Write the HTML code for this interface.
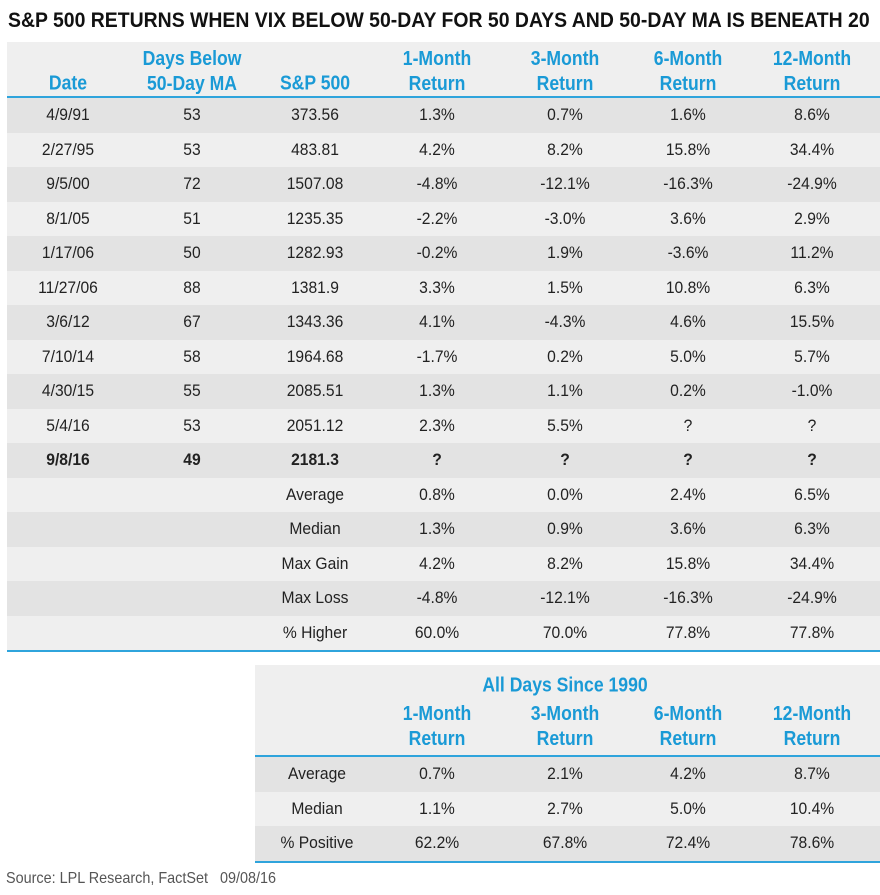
<!DOCTYPE html>
<html><head><meta charset="utf-8"><style>
*{margin:0;padding:0;box-sizing:border-box}
body{width:880px;height:895px;background:#fff;position:relative;overflow:hidden;font-family:"Liberation Sans",sans-serif;color:#222}
.t{position:absolute;left:8px;top:9px;font-size:21px;font-weight:bold;color:#111;white-space:nowrap;transform-origin:0 0}
.bg{position:absolute}
.c{position:absolute;text-align:center;font-size:17px;transform:translate(-50%,-50%) scaleX(0.92);white-space:nowrap}
.h{color:#1a9ad6;font-weight:bold;font-size:20px;line-height:25px;transform:translate(-50%,-50%) scaleX(0.88)}
.src{position:absolute;left:6px;top:870px;font-size:16px;color:#555;transform-origin:0 0;transform:scaleX(0.9)}
</style></head><body>
<div class="t" id="title">S&amp;P 500 RETURNS WHEN VIX BELOW 50-DAY FOR 50 DAYS AND 50-DAY MA IS BENEATH 20</div>
<div id="root"></div>
<div class="src">Source: LPL Research, FactSet&nbsp;&nbsp;&nbsp;09/08/16</div>
<script>
const colX=[68,192,315,437,565,688,812];
const headers=[["Date"],["Days Below","50-Day MA"],["S&P 500"],["1-Month","Return"],["3-Month","Return"],["6-Month","Return"],["12-Month","Return"]];
const rows=[
["4/9/91","53","373.56","1.3%","0.7%","1.6%","8.6%"],
["2/27/95","53","483.81","4.2%","8.2%","15.8%","34.4%"],
["9/5/00","72","1507.08","-4.8%","-12.1%","-16.3%","-24.9%"],
["8/1/05","51","1235.35","-2.2%","-3.0%","3.6%","2.9%"],
["1/17/06","50","1282.93","-0.2%","1.9%","-3.6%","11.2%"],
["11/27/06","88","1381.9","3.3%","1.5%","10.8%","6.3%"],
["3/6/12","67","1343.36","4.1%","-4.3%","4.6%","15.5%"],
["7/10/14","58","1964.68","-1.7%","0.2%","5.0%","5.7%"],
["4/30/15","55","2085.51","1.3%","1.1%","0.2%","-1.0%"],
["5/4/16","53","2051.12","2.3%","5.5%","?","?"],
["9/8/16","49","2181.3","?","?","?","?"],
["","","Average","0.8%","0.0%","2.4%","6.5%"],
["","","Median","1.3%","0.9%","3.6%","6.3%"],
["","","Max Gain","4.2%","8.2%","15.8%","34.4%"],
["","","Max Loss","-4.8%","-12.1%","-16.3%","-24.9%"],
["","","% Higher","60.0%","70.0%","77.8%","77.8%"]];
const rows2=[["Average","0.7%","2.1%","4.2%","8.7%"],["Median","1.1%","2.7%","5.0%","10.4%"],["% Positive","62.2%","67.8%","72.4%","78.6%"]];
const T=document.getElementById('title');
T.style.transform='scaleX('+(862/T.scrollWidth)+')';
const R=document.getElementById('root');
function box(x,y,w,h,col,name){const d=document.createElement('div');d.className='bg';d.style.cssText=`left:${x}px;top:${y}px;width:${w}px;height:${h}px;background:${col}`;


R.appendChild(d);return d;}
function txt(x,y,s,cls,name){const d=document.createElement('div');d.className='c '+(cls||'');d.style.left=x+'px';d.style.top=y+'px';d.innerHTML=s;


R.appendChild(d);return d;}
box(7,42,873,56,'#efefef','header-bg');
headers.forEach((h,i)=>{txt(colX[i],h.length>1?72:84,h.map(s=>s.replace('&','&amp;')).join('<br>'),'h','column-header');});
const rh=34.5,y0=98;
rows.forEach((r,i)=>{box(7,y0+i*rh,873,rh+0.5,i%2==0?'#e3e3e3':'#efefef','row-bg');
r.forEach((v,j)=>{if(v==='')return;const t=txt(colX[j],y0+i*rh+rh/2,v,'','cell');if(i==10)t.style.fontWeight='bold';});});
box(7,96,873,2,'#2fa4dc','header-rule');
box(7,y0+rows.length*rh,873,2,'#2fa4dc','bottom-rule');
box(255,665,625,91,'#efefef','header2-bg');
txt(565,686,'All Days Since 1990','h','group-header');
for(let j=3;j<7;j++)txt(colX[j],727,headers[j].join('<br>'),'h','column-header');
box(255,755,625,2,'#2fa4dc','header2-rule');
const y1=757;
rows2.forEach((r,i)=>{box(255,y1+i*rh,625,rh,i%2==0?'#e3e3e3':'#efefef','row-bg');
r.forEach((v,j)=>txt(j==0?317:colX[j+2],y1+i*rh+rh/2,v,'','cell'));});
box(255,y1+3*rh,625,2,'#2fa4dc','bottom2-rule');
</script>
</body></html>
